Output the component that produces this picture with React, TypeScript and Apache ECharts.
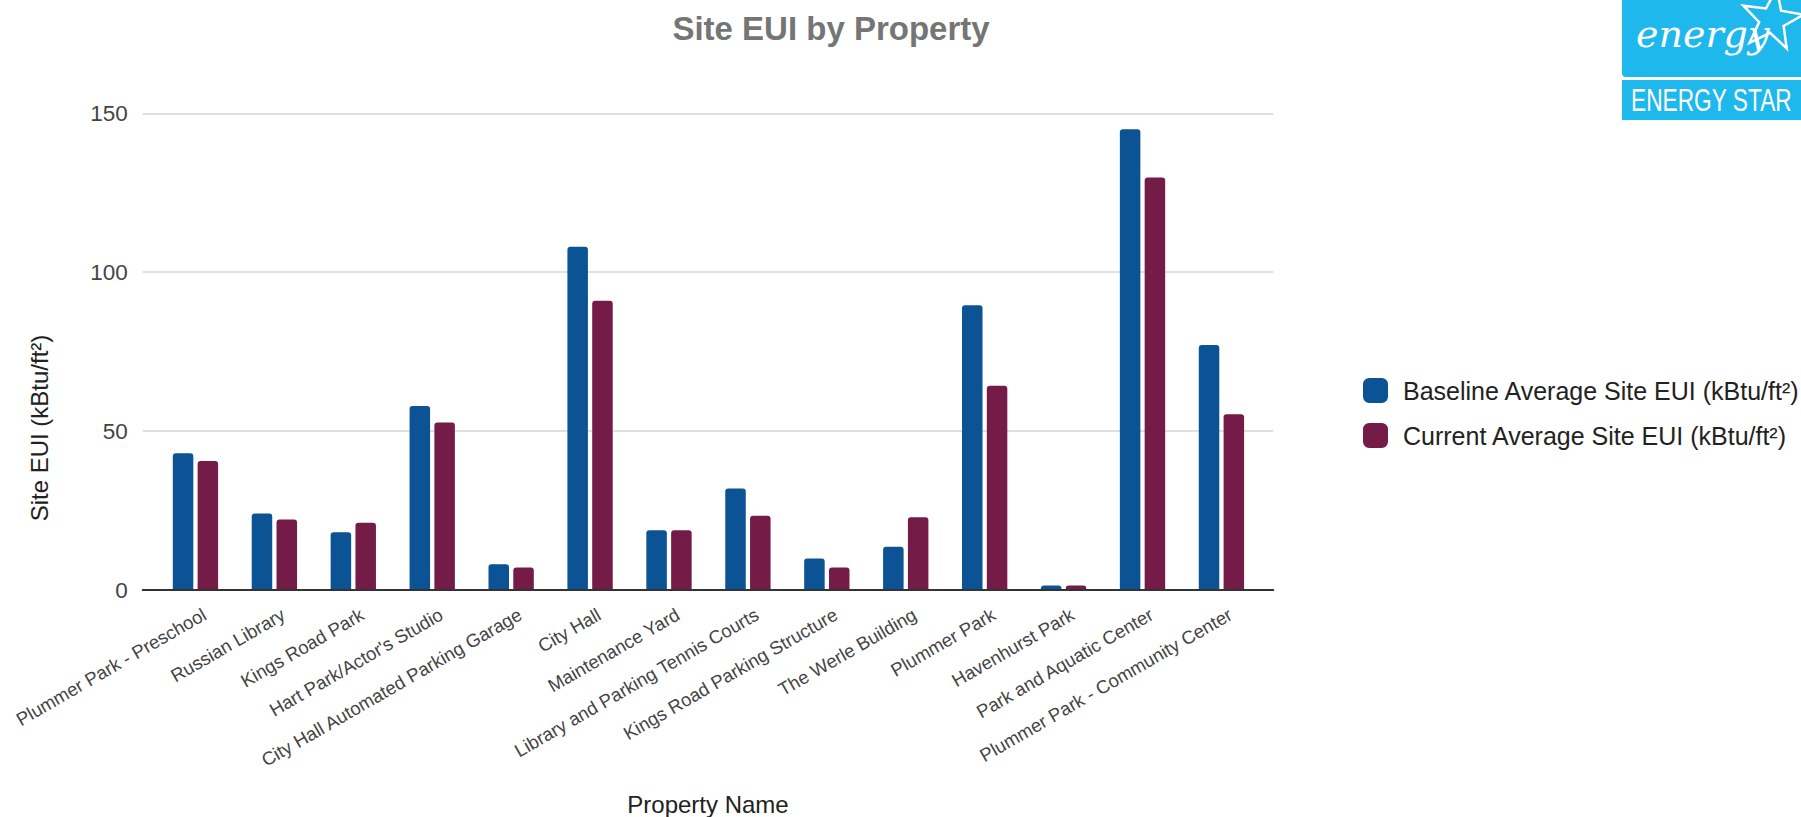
import React, { useEffect, useRef } from "react";
import * as echarts from "echarts";

const categories = [
  "Plummer Park - Preschool",
  "Russian Library",
  "Kings Road Park",
  "Hart Park/Actor's Studio",
  "City Hall Automated Parking Garage",
  "City Hall",
  "Maintenance Yard",
  "Library and Parking Tennis Courts",
  "Kings Road Parking Structure",
  "The Werle Building",
  "Plummer Park",
  "Havenhurst Park",
  "Park and Aquatic Center",
  "Plummer Park - Community Center",
];
const baselineEUI = [43.0, 24.1, 18.2, 57.9, 8.1, 108.0, 18.8, 31.9, 9.9, 13.6, 89.6, 1.4, 145.0, 77.1];
const currentEUI = [40.6, 22.2, 21.2, 52.7, 7.1, 91.0, 18.8, 23.4, 7.1, 22.9, 64.3, 1.4, 129.8, 55.3];
const seriesNames = ["Baseline Average Site EUI (kBtu/ft²)", "Current Average Site EUI (kBtu/ft²)"];
const yTicks = { min: 0, max: 150, interval: 50 };

const FONT = '"Liberation Sans", Arial, sans-serif';

function starPoints(cx: number, cy: number, R: number, r: number, rot: number) {
  const pts: number[][] = [];
  for (let i = 0; i < 10; i++) {
    const rad = i % 2 === 0 ? R : r;
    const a = rot - Math.PI / 2 + (i * Math.PI) / 5;
    pts.push([cx + rad * Math.cos(a), cy + rad * Math.sin(a)]);
  }
  return pts;
}

export default function App() {
  const ref = useRef<HTMLDivElement>(null);
  useEffect(() => {
    if (!ref.current) return;
    const chart = echarts.init(ref.current, undefined, { renderer: "svg" });
    const top = 113.3;
    const height = 476.7;
    const option: any = {
      animation: false,
      backgroundColor: "#ffffff",
      title: {
        text: "Site EUI by Property",
        left: 826,
        textAlign: "center",
        top: 7,
        textStyle: { fontFamily: FONT, fontSize: 33, fontWeight: "bold", color: "#757575" },
      },
      legend: {
        orient: "vertical",
        left: 1358,
        top: 373,
        padding: 5,
        itemWidth: 25,
        itemHeight: 25,
        itemGap: 20,
        icon: "roundRect",
        data: seriesNames,
        textStyle: { fontFamily: FONT, fontSize: 25, color: "#222222", padding: [0, 0, 0, 10] },
      },
      grid: [
        { left: 156, top, width: 1104.9, height, outerBoundsMode: "none", containLabel: false },
        { left: 142.7, top, width: 1130.6, height, outerBoundsMode: "none", containLabel: false },
        { left: 165, top, width: 1104.9, height, outerBoundsMode: "none", containLabel: false },
      ],
      xAxis: [
        {
          type: "category",
          gridIndex: 0,
          data: categories,
          axisLine: { show: false },
          axisTick: { show: false },
          axisLabel: { show: false },
        },
        {
          type: "value",
          gridIndex: 1,
          min: 0,
          max: 1,
          z: 5,
          axisLine: { show: true, onZero: false, lineStyle: { color: "#333333", width: 2 } },
          axisTick: { show: false },
          axisLabel: { show: false },
          splitLine: { show: false },
        },
        {
          type: "category",
          gridIndex: 2,
          data: categories,
          axisLine: { show: false },
          axisTick: { show: false },
          axisLabel: {
            interval: 0,
            rotate: 30,
            margin: 23,
            fontFamily: FONT,
            fontSize: 18.5,
            color: "#444444",
          },
        },
      ],
      yAxis: [
        { type: "value", gridIndex: 0, ...yTicks, show: false, splitLine: { show: false } },
        {
          type: "value",
          gridIndex: 1,
          ...yTicks,
          axisLine: { show: false },
          axisTick: { show: false },
          axisLabel: { margin: 15, fontFamily: FONT, fontSize: 22.5, color: "#444444" },
          splitLine: { lineStyle: { color: "#d6d6d6", width: 1.5 } },
        },
        { type: "value", gridIndex: 2, ...yTicks, show: false, splitLine: { show: false } },
      ],
      series: [
        {
          name: seriesNames[0],
          type: "bar",
          xAxisIndex: 0,
          yAxisIndex: 0,
          data: baselineEUI,
          barWidth: 20.5,
          barGap: "21%",
          itemStyle: { color: "#0b5394", borderRadius: [3, 3, 0, 0] },
        },
        {
          name: seriesNames[1],
          type: "bar",
          xAxisIndex: 0,
          yAxisIndex: 0,
          data: currentEUI,
          barWidth: 20.5,
          barGap: "21%",
          itemStyle: { color: "#741b47", borderRadius: [3, 3, 0, 0] },
        },
      ],
      graphic: [
        {
          type: "text",
          x: 39,
          y: 428,
          rotation: Math.PI / 2,
          style: {
            text: "Site EUI (kBtu/ft²)",
            fontFamily: FONT,
            fontSize: 24,
            fill: "#222222",
            align: "center",
            verticalAlign: "middle",
          },
        },
        {
          type: "text",
          x: 708,
          y: 804,
          style: {
            text: "Property Name",
            fontFamily: FONT,
            fontSize: 24,
            fill: "#222222",
            align: "center",
            verticalAlign: "middle",
          },
        },
        {
          type: "group",
          children: [
            { type: "rect", shape: { x: 1622, y: -6, width: 185, height: 83, r: 4 }, style: { fill: "#1eb8ec" } },
            { type: "rect", shape: { x: 1622, y: 80, width: 185, height: 40 }, style: { fill: "#1eb8ec" } },
            {
              type: "text",
              x: 1631,
              y: 100,
              scaleX: 0.71,
              style: {
                text: "ENERGY STAR",
                fontFamily: FONT,
                fontSize: 32,
                fill: "#ffffff",
                align: "left",
                verticalAlign: "middle",
              },
            },
            {
              type: "text",
              x: 1636,
              y: 34,
              style: {
                text: "energy",
                fontFamily: '"DejaVu Serif", serif',
                fontStyle: "italic",
                fontSize: 38,
                fill: "#ffffff",
                align: "left",
                verticalAlign: "middle",
              },
            },
            {
              type: "polygon",
              shape: { points: starPoints(1772, 20, 32, 13, 0.15) },
              style: { fill: "none", stroke: "#ffffff", lineWidth: 2.5 },
            },
          ],
        },
      ],
    };
    chart.setOption(option);
    return () => chart.dispose();
  }, []);
  return (
    <div
      ref={ref}
      style={{ position: "fixed", left: 0, top: 0, width: 1801, height: 817, background: "#fff" }}
    />
  );
}
